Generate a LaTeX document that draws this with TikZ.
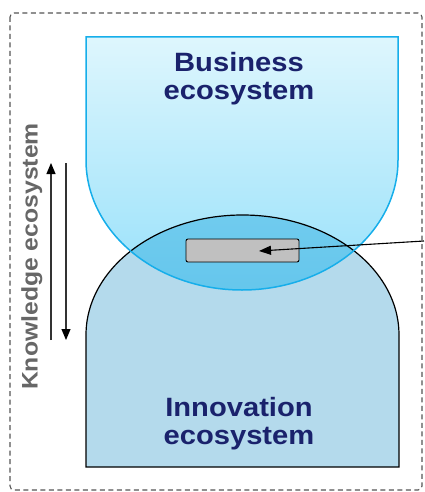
\documentclass[tikz,border=0pt]{standalone}
\usepackage{fontspec}
\setmainfont{Liberation Sans}
\newfontfamily\labelfont[FakeStretch=1.1]{Liberation Sans}
\usetikzlibrary{arrows.meta}
\definecolor{upTop}{RGB}{222,246,253}
\definecolor{upBot}{RGB}{152,225,250}
\definecolor{upStroke}{RGB}{22,174,234}
\definecolor{lowFill}{RGB}{180,218,236}
\definecolor{ovTop}{RGB}{112,203,238}
\definecolor{ovBot}{RGB}{76,188,232}
\definecolor{navy}{RGB}{26,34,108}
\definecolor{kgray}{RGB}{103,103,103}
\definecolor{bordergray}{RGB}{85,85,85}
\definecolor{boxgray}{RGB}{192,192,192}
\tikzset{
  frame/.style={draw=bordergray, line width=1.1pt, dash pattern=on 5pt off 3.5pt, rounded corners=4pt},
  eco/.style={text=navy, font=\labelfont\bfseries\fontsize{26.5}{28}\selectfont, align=center, inner sep=0pt},
  know/.style={text=kgray, font=\labelfont\bfseries\fontsize{22.5}{24}\selectfont, inner sep=0pt, rotate=90, anchor=base},
  vline/.style={draw=black!80, line width=1.1pt, -{Triangle[length=11pt,width=9pt,color=black]}},
  pointer/.style={draw=black, line width=1.1pt, -{Triangle[length=12pt,width=9pt]}},
  smallbox/.style={draw=black, fill=boxgray, line width=0.9pt, rounded corners=2pt, minimum width=113pt, minimum height=23pt, inner sep=0pt}
}
\begin{document}
\begin{tikzpicture}[x=1pt,y=-1pt]
\useasboundingbox (0,0) rectangle (424,492);
% dashed frame
\draw[frame] (10,13) rectangle (422,490);
% shapes
\def\upperpath{(86,37) -- (398,37) -- (398,160) arc[start angle=0, end angle=180, x radius=156, y radius=130] -- cycle}
\def\lowerpath{(86,467) -- (86,335) arc[start angle=180, end angle=360, x radius=156.5, y radius=120] -- (399,467) -- cycle}
\fill[lowFill] \lowerpath;
\shade[top color=upTop, bottom color=upBot] \upperpath;
\begin{scope}
  \clip \upperpath;
  \shade[top color=ovTop, bottom color=ovBot] \lowerpath;
\end{scope}
\draw[black, line width=1.2pt] \lowerpath;
\draw[upStroke, line width=1.5pt] \upperpath;
% labels
\node[eco] (biz) at (239,79) {Business\\ecosystem};
\node[eco] (inn) at (239,424) {Innovation\\ecosystem};
\node[know] (know) at (37.5,256.5) {Knowledge ecosystem};
% vertical arrows
\coordinate (upS) at (51,340);
\coordinate (upE) at (51,163);
\coordinate (dnS) at (66,163);
\coordinate (dnE) at (66,340);
\draw[vline] (upS) -- (upE);
\draw[vline] (dnS) -- (dnE);
% small box and pointer
\node[smallbox] (box) at (242.5,250.5) {};
\coordinate (src) at (424,241);
\coordinate (tip) at (259,251);
\draw[pointer] (src) -- (tip);
\end{tikzpicture}
\end{document}
